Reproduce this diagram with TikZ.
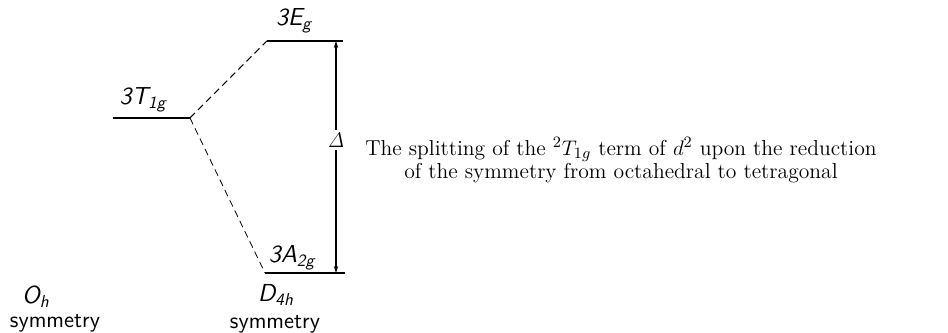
\documentclass[tikz,border=0pt]{standalone}
\usepackage{amsmath}
\usetikzlibrary{arrows.meta}

\begin{document}
\begin{tikzpicture}[x=0.02cm, y=-0.02cm, >={Stealth[length=4pt,width=2.5pt]},
    niveau/.style={line width=0.6pt},
    lien/.style={line width=0.6pt, dash pattern=on 4pt off 2.5pt},
    etiq/.style={font=\sffamily\slshape\fontsize{14}{16}\selectfont, inner sep=0pt},
    sym/.style={font=\sffamily\fontsize{13}{15}\selectfont, inner sep=0pt}]
        \useasboundingbox (0,0) rectangle (948,333);

        % --- Niveaux d'energie ---
        \coordinate (t1l) at (113,118);
        \coordinate (t1r) at (190,118);
        \coordinate (egl) at (267,41);
        \coordinate (egr) at (343,41);
        \coordinate (a2l) at (265,273);
        \coordinate (a2r) at (345,273);
        \draw[niveau] (t1l) -- (t1r);
        \draw[niveau] (egl) -- (egr);
        \draw[niveau] (a2l) -- (a2r);

        % Separation (pointilles)
        \draw[lien] (t1r) -- (egl);
        \draw[lien, line width=0.45pt] (t1r) -- (a2l);

        % Etiquettes des termes
        \node[etiq] (t1lab) at (143,100) {3T\textsubscript{1g}};
        \node[etiq] (eglab) at (294,21) {3E\textsubscript{g}};
        \node[etiq] (a2lab) at (292,258) {3A\textsubscript{2g}};

        % --- Ecart Delta ---
        \coordinate (dtop) at (336,41);
        \coordinate (dbot) at (336,273);
        \node[inner sep=1.5pt, font=\large] (delta) at (336,140) {$\mathit{\Delta}$};
        \draw[->, line width=0.6pt] (delta) -- (dtop);
        \draw[->, line width=0.6pt] (delta) -- (dbot);

        % --- Symetries ---
        \node[etiq] (oh) at (36,297) {O\textsubscript{h}};
        \node[sym] (ohsym) at (55,323) {symmetry};
        \node[etiq] (d4h) at (276,295) {D\textsubscript{4h}};
        \node[sym] (d4hsym) at (275,324) {symmetry};

        % --- Legende ---
        \node[align=center, font=\fontsize{12.3}{13}\selectfont] (legende) at (621,160)
            {The splitting of the $^2T_{1g}$ term of $d^2$ upon the reduction\\
             of the symmetry from octahedral to tetragonal};
    \end{tikzpicture}
\end{document}
